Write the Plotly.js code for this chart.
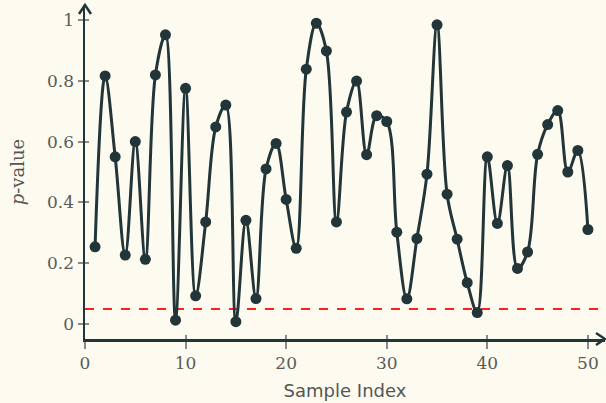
<!DOCTYPE html>
<html><head><meta charset="utf-8">
<script src="https://cdn.plot.ly/plotly-3.0.1.min.js"></script>
<style>html,body{margin:0;padding:0;background:#fdfbf0;}#chart{width:606px;height:403px;}</style>
</head><body><div id="chart"></div>
<script>
const sampleIndex = [1,2,3,4,5,6,7,8,9,10,11,12,13,14,15,16,17,18,19,20,21,22,23,24,25,26,27,28,29,30,31,32,33,34,35,36,37,38,39,40,41,42,43,44,45,46,47,48,49,50];
const pValues = [0.254,0.816,0.550,0.227,0.600,0.213,0.819,0.951,0.013,0.775,
                 0.093,0.336,0.648,0.720,0.008,0.341,0.084,0.510,0.594,0.410,
                 0.249,0.838,0.989,0.898,0.336,0.697,0.799,0.557,0.685,0.666,
                 0.302,0.083,0.281,0.493,0.984,0.427,0.279,0.136,0.038,0.550,
                 0.331,0.521,0.183,0.237,0.558,0.656,0.702,0.500,0.571,0.311];
const threshold = 0.05;
const xTicks = [0,10,20,30,40,50];
const yTicks = [0,0.2,0.4,0.6,0.8,1];
const yTickText = ['0','0.2','0.4','0.6','0.8','1'];
const xRange = [0, 51.7];
const yRange = [-0.049, 1.049];

const dark = '#223539';
const tickGrey = '#8a8a8a';
const trace = {
  x: sampleIndex, y: pValues, type: 'scatter', mode: 'lines+markers',
  line: {color: dark, width: 3, shape: 'spline', smoothing: 1},
  marker: {color: dark, size: 11},
  hoverinfo: 'skip', showlegend: false
};
const dummy = {x: [], y: [], xaxis: 'x2', yaxis: 'y2', type: 'scatter', mode: 'markers', showlegend: false, hoverinfo: 'skip'};
const tickFont = {family: 'DejaVu Serif, serif', size: 17, color: '#5a5a5a'};
const layout = {
  width: 606, height: 403,
  paper_bgcolor: '#fdfbf0', plot_bgcolor: '#fdfbf0',
  margin: {l: 85, r: 1, t: 5, b: 64},
  xaxis: {
    range: xRange, tickvals: xTicks, ticktext: xTicks.map(String),
    showgrid: false, zeroline: false, showline: true, linecolor: dark, linewidth: 2.5,
    ticks: 'outside', ticklen: 7, tickwidth: 2, tickcolor: tickGrey,
    tickfont: tickFont,
    title: {text: 'Sample Index', font: {family: 'DejaVu Sans, sans-serif', size: 18, color: '#555555'}, standoff: 13}
  },
  yaxis: {
    range: yRange, tickvals: yTicks, ticktext: yTickText,
    showgrid: false, zeroline: false, showline: true, linecolor: dark, linewidth: 2.5,
    ticks: 'outside', ticklen: 5, tickwidth: 2, tickcolor: tickGrey,
    tickfont: tickFont,
    title: {text: '<i>p</i>-value', font: {family: 'DejaVu Serif, serif', size: 18, color: '#555555'}, standoff: 18}
  },
  xaxis2: {
    overlaying: 'x', range: xRange, tickvals: xTicks, showticklabels: false,
    showgrid: false, zeroline: false, showline: false,
    ticks: 'inside', ticklen: 4, tickwidth: 2, tickcolor: tickGrey
  },
  yaxis2: {
    overlaying: 'y', range: yRange, tickvals: yTicks, showticklabels: false,
    showgrid: false, zeroline: false, showline: false,
    ticks: 'inside', ticklen: 4, tickwidth: 2, tickcolor: tickGrey
  },
  shapes: [
    {type: 'line', xref: 'paper', x0: 0, x1: 1, yref: 'y', y0: threshold, y1: threshold,
     line: {color: '#ff2020', width: 2, dash: 'dash'}, layer: 'below'},
    {type: 'path', xref: 'paper', yref: 'paper', xsizemode: 'pixel', ysizemode: 'pixel',
     xanchor: 1, yanchor: 0, path: 'M-9,-6 L0,0 L-9,6',
     line: {color: dark, width: 2.5}},
    {type: 'path', xref: 'paper', yref: 'paper', xsizemode: 'pixel', ysizemode: 'pixel',
     xanchor: 0, yanchor: 1, path: 'M-6,-9 L0,0 L6,-9',
     line: {color: dark, width: 2.5}}
  ]
};
Plotly.newPlot('chart', [trace, dummy], layout, {staticPlot: true});
</script></body></html>
